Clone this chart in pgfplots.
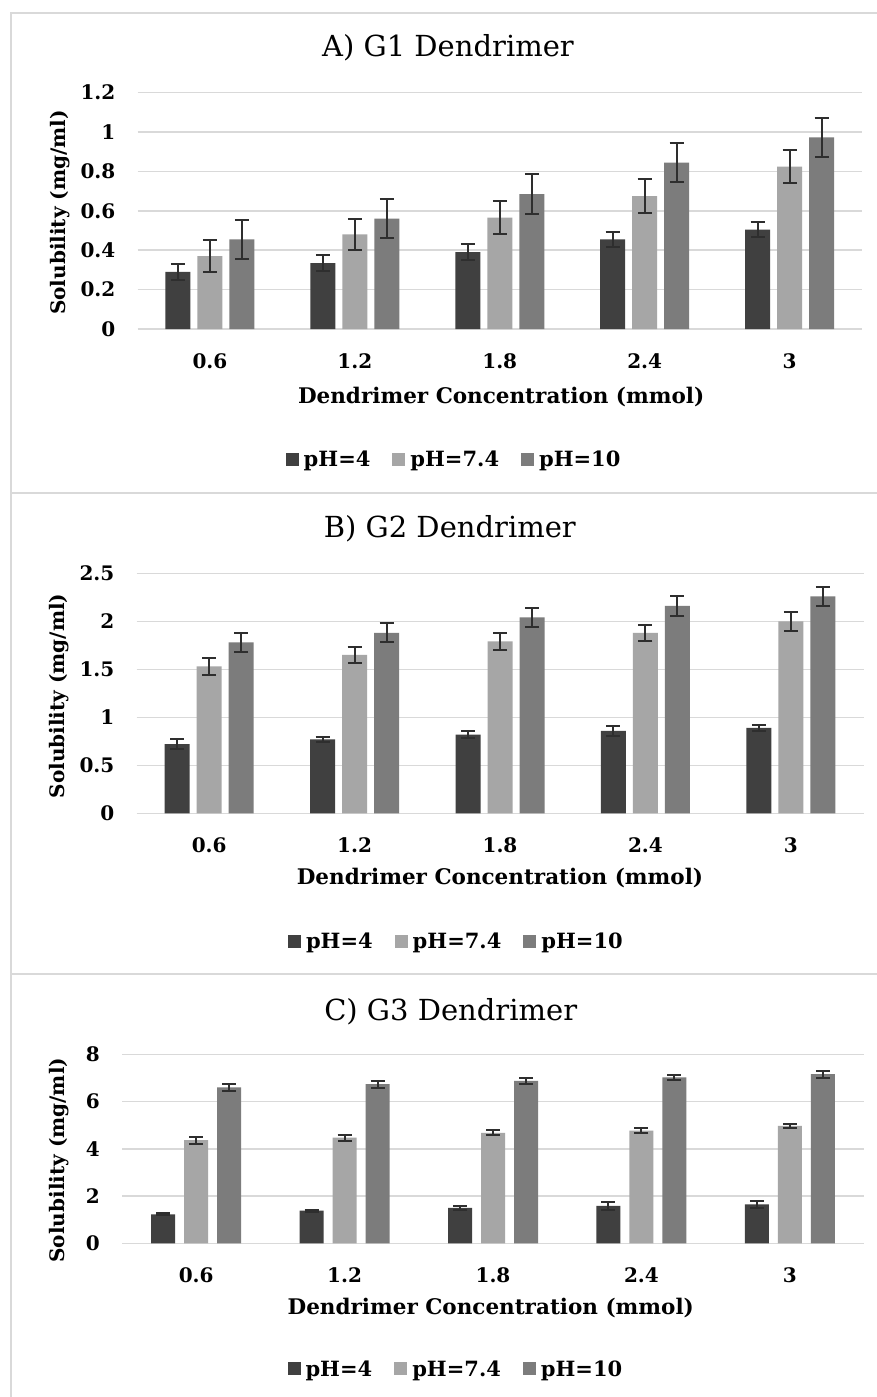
\documentclass[border=0pt]{standalone}
\usepackage{fontspec}
\setmainfont{DejaVu Serif}
\usepackage{pgfplots}
\pgfplotsset{compat=1.18}
\usepackage{pgfplotstable}

\definecolor{cA}{HTML}{404040}
\definecolor{cB}{HTML}{A6A6A6}
\definecolor{cC}{HTML}{7C7C7C}
\definecolor{gridc}{HTML}{D9D9D9}
\definecolor{errc}{HTML}{2E2E2E}

\newcommand\tickfont{\fontsize{20}{24}\selectfont\bfseries}
\newcommand\ylabfont{\fontsize{20}{24}\selectfont\bfseries}
\newcommand\xlabfont{\fontsize{21.5}{25}\selectfont\bfseries}
\newcommand\titfont{\fontsize{29}{33}\selectfont}
\newcommand\legfont{\fontsize{21}{25}\selectfont\bfseries}

% Panel A (G1)
\pgfplotstableread{
x y e
0 0.290 0.04
1 0.335 0.04
2 0.390 0.04
3 0.455 0.04
4 0.505 0.04
}\AphA
\pgfplotstableread{
x y e
0 0.370 0.080
1 0.480 0.080
2 0.565 0.085
3 0.675 0.085
4 0.825 0.085
}\AphB
\pgfplotstableread{
x y e
0 0.455 0.10
1 0.560 0.10
2 0.685 0.10
3 0.845 0.10
4 0.973 0.10
}\AphC
% Panel B (G2)
\pgfplotstableread{
x y e
0 0.72 0.050
1 0.77 0.030
2 0.82 0.040
3 0.86 0.050
4 0.89 0.035
}\BphA
\pgfplotstableread{
x y e
0 1.53 0.090
1 1.65 0.085
2 1.79 0.085
3 1.88 0.085
4 2.00 0.100
}\BphB
\pgfplotstableread{
x y e
0 1.78 0.10
1 1.88 0.10
2 2.04 0.10
3 2.16 0.10
4 2.26 0.10
}\BphC
% Panel C (G3)
\pgfplotstableread{
x y e
0 1.23 0.05
1 1.38 0.05
2 1.50 0.07
3 1.58 0.15
4 1.65 0.15
}\CphA
\pgfplotstableread{
x y e
0 4.37 0.15
1 4.47 0.12
2 4.68 0.10
3 4.77 0.12
4 4.97 0.10
}\CphB
\pgfplotstableread{
x y e
0 6.60 0.15
1 6.74 0.15
2 6.88 0.12
3 7.02 0.12
4 7.16 0.15
}\CphC

\pgfplotsset{
  sqleg/.style={legend image code/.code={\fill[##1] (0pt,-6.5pt) rectangle (13pt,6.5pt);}},
  panel/.style={
    scale only axis,
    ybar=7pt, bar width=25pt,
    xmin=-0.5, xmax=4.5, ymin=0,
    xtick={0,1,2,3,4}, xticklabels={0.6,1.2,1.8,2.4,3},
    axis line style={draw=none},
    major tick length=0pt,
    ymajorgrids, grid style={gridc, line width=1.5pt},
    /pgf/number format/assume math mode=true,
    tick label style={font=\tickfont},
    xticklabel style={anchor=center, yshift=-32pt},
    yticklabel style={anchor=east, inner sep=0pt, xshift=-22pt},
    xlabel={Dendrimer Concentration (mmol)},
    ylabel={Solubility (mg/ml)},
    xlabel style={font=\xlabfont},
    ylabel style={font=\ylabfont},
    title style={font=\titfont, anchor=center},
    legend columns=-1,
    legend style={draw=none, fill=none, anchor=center, font=\legfont,
      /tikz/every odd column/.append style={column sep=3pt},
      /tikz/every even column/.append style={column sep=20pt}},
    sqleg,
  },
  bar/.style={draw=none, fill=#1,
    error bars/.cd, y dir=both, y explicit,
    error bar style={draw=errc, line width=2pt},
    error mark options={draw=errc, rotate=90, mark size=7pt, line width=2pt}},
}

\begin{document}
\begin{tikzpicture}
\useasboundingbox (0pt,0pt) rectangle (877pt,-1397pt);
\fill[white] (0pt,0pt) rectangle (877pt,-1397pt);
\draw[gridc, line width=2pt] (11pt,-1400pt) -- (11pt,-13pt) -- (900pt,-13pt);
\draw[gridc, line width=2pt] (11pt,-493pt) -- (900pt,-493pt);
\draw[gridc, line width=2pt] (11pt,-974pt) -- (900pt,-974pt);

% ---------------- Panel A ----------------
\begin{axis}[panel,
  at={(137.5pt,-329pt)}, anchor=south west,
  width=724.5pt, height=236.3pt,
  ymax=1.2, ytick={0,0.2,0.4,0.6,0.8,1,1.2},
  title={A) G1 Dendrimer},
  title style={at={(axis description cs:0.4286,1.165)}},
  xlabel style={at={(axis description cs:0.502,-0.288)}, anchor=center},
  ylabel style={at={(axis description cs:-0.107,0.493)}, anchor=center},
  legend style={at={(0.437,-0.554)}},
]
\addplot[bar=cA] table[x=x, y=y, y error=e] {\AphA};
\addplot[bar=cB] table[x=x, y=y, y error=e] {\AphB};
\addplot[bar=cC] table[x=x, y=y, y error=e] {\AphC};
\legend{pH=4, pH=7.4, pH=10}
\end{axis}

% ---------------- Panel B ----------------
\begin{axis}[panel,
  at={(136.5pt,-813.3pt)}, anchor=south west,
  width=727pt, height=240pt,
  ymax=2.5, ytick={0,0.5,1,1.5,2,2.5},
  title={B) G2 Dendrimer},
  title style={at={(axis description cs:0.431,1.16)}},
  xlabel style={at={(axis description cs:0.5,-0.27)}, anchor=center},
  ylabel style={at={(axis description cs:-0.107,0.489)}, anchor=center},
  legend style={at={(0.44,-0.536)}},
]
\addplot[bar=cA] table[x=x, y=y, y error=e] {\BphA};
\addplot[bar=cB] table[x=x, y=y, y error=e] {\BphB};
\addplot[bar=cC] table[x=x, y=y, y error=e] {\BphC};
\legend{pH=4, pH=7.4, pH=10}
\end{axis}

% ---------------- Panel C ----------------
\begin{axis}[panel,
  at={(122pt,-1243.3pt)}, anchor=south west,
  width=742pt, height=189pt,
  ybar=9pt, bar width=24pt, sqleg,
  ymax=8, ytick={0,2,4,6,8},
  title={C) G3 Dendrimer},
  title style={at={(axis description cs:0.443,1.195)}},
  xlabel style={at={(axis description cs:0.497,-0.342)}, anchor=center},
  ylabel style={at={(axis description cs:-0.085,0.44)}, anchor=center},
  legend style={at={(0.45,-0.665)}},
]
\addplot[bar=cA] table[x=x, y=y, y error=e] {\CphA};
\addplot[bar=cB] table[x=x, y=y, y error=e] {\CphB};
\addplot[bar=cC] table[x=x, y=y, y error=e] {\CphC};
\legend{pH=4, pH=7.4, pH=10}
\end{axis}
\end{tikzpicture}
\end{document}
